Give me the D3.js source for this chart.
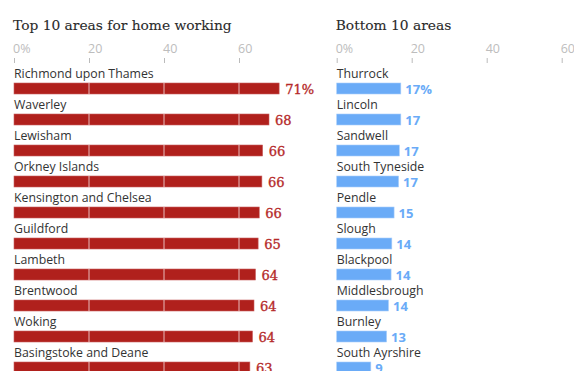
<!DOCTYPE html>
<html><head><meta charset="utf-8">
<script src="https://cdn.jsdelivr.net/npm/d3@7"></script>
<style>body{margin:0;background:#fff}svg{display:block}</style>
</head><body>
<svg id="c" width="574" height="371"></svg>
<script>
const topAreas = ["Richmond upon Thames","Waverley","Lewisham","Orkney Islands","Kensington and Chelsea","Guildford","Lambeth","Brentwood","Woking","Basingstoke and Deane"];
const topValues = [70.7, 68.0, 66.3, 66.1, 65.4, 65.1, 64.4, 64.0, 63.6, 62.9];
const topLabels = ["71%","68","66","66","66","65","64","64","64","63"];
const bottomAreas = ["Thurrock","Lincoln","Sandwell","South Tyneside","Pendle","Slough","Blackpool","Middlesbrough","Burnley","South Ayrshire"];
const bottomValues = [17.1, 17.1, 16.7, 16.5, 15.3, 14.7, 14.5, 13.8, 13.3, 9.1];
const bottomLabels = ["17%","17","17","17","15","14","14","14","13","9"];
const tickValues = [0, 20, 40, 60];
const tickLabels = ["0%","20","40","60"];

const svg = d3.select("#c");
const x = d3.scaleLinear().domain([0, 80]).range([0, 300]);
const y = d3.scaleLinear().domain([0, 1]).range([83, 114]);
const barH = 11;

function panel(x0, title, areas, values, labels, cfg) {
  const g = svg.append("g").attr("transform", `translate(${x0},0)`);
  g.append("text").attr("x", -1).attr("y", 29.5).text(title)
    .attr("font-family", "DejaVu Serif").attr("font-size", 13.8).attr("fill", "#2a2a2a")
    .attr("stroke", "#2a2a2a").attr("stroke-width", 0.1);
  const axis = d3.axisTop(x).tickValues(tickValues).tickFormat((d, i) => tickLabels[i]).tickSize(5).tickPadding(5);
  const ag = g.append("g").attr("transform", "translate(0,63)").call(axis);
  ag.select(".domain").remove();
  ag.selectAll(".tick line").attr("stroke", "#bbb");
  ag.selectAll(".tick text").attr("fill", "#bdbdbd").attr("font-family", "Open Sans").attr("font-size", 12.5).attr("text-anchor", "start").attr("dx", -1.5);
  const rows = g.selectAll(".row").data(areas).join("g").attr("class", "row")
    .attr("transform", (d, i) => `translate(0,${y(i)})`);
  rows.append("text").attr("x", 0).attr("y", -5).text(d => d)
    .attr("font-family", "Open Sans").attr("font-size", 12.3).attr("fill", "#333");
  rows.append("rect").attr("x", 0).attr("y", 0).attr("height", barH)
    .attr("width", (d, i) => x(values[i])).attr("fill", cfg.color)
    .attr("stroke", cfg.edge).attr("stroke-width", 0.6);
  rows.each(function(d, i) {
    const r = d3.select(this);
    tickValues.filter(t => t > 0 && t < values[i]).forEach(t => {
      r.append("line").attr("x1", x(t)).attr("x2", x(t)).attr("y1", 0).attr("y2", barH)
        .attr("stroke", "#fff").attr("stroke-opacity", 0.7).attr("stroke-width", 1);
    });
  });
  rows.append("text").attr("x", (d, i) => x(values[i]) + cfg.pad).attr("y", cfg.base)
    .text((d, i) => labels[i]).attr("fill", cfg.labelColor)
    .attr("stroke", cfg.labelColor).attr("stroke-width", cfg.sw)
    .attr("font-family", cfg.font).attr("font-size", cfg.size).attr("font-weight", cfg.weight);
}

panel(14, "Top 10 areas for home working", topAreas, topValues, topLabels,
  {color: "#b0201c", edge: "#c86060", labelColor: "#b52a2a", pad: 6, base: 10.5, font: "DejaVu Serif", size: 13, weight: "normal", sw: 0.35});
panel(336.7, "Bottom 10 areas", bottomAreas, bottomValues, bottomLabels,
  {color: "#6aabf7", edge: "#a8cdfa", labelColor: "#6aabf7", pad: 4.5, base: 10.8, font: "Open Sans", size: 13, weight: "bold", sw: 0});
</script>
</body></html>
